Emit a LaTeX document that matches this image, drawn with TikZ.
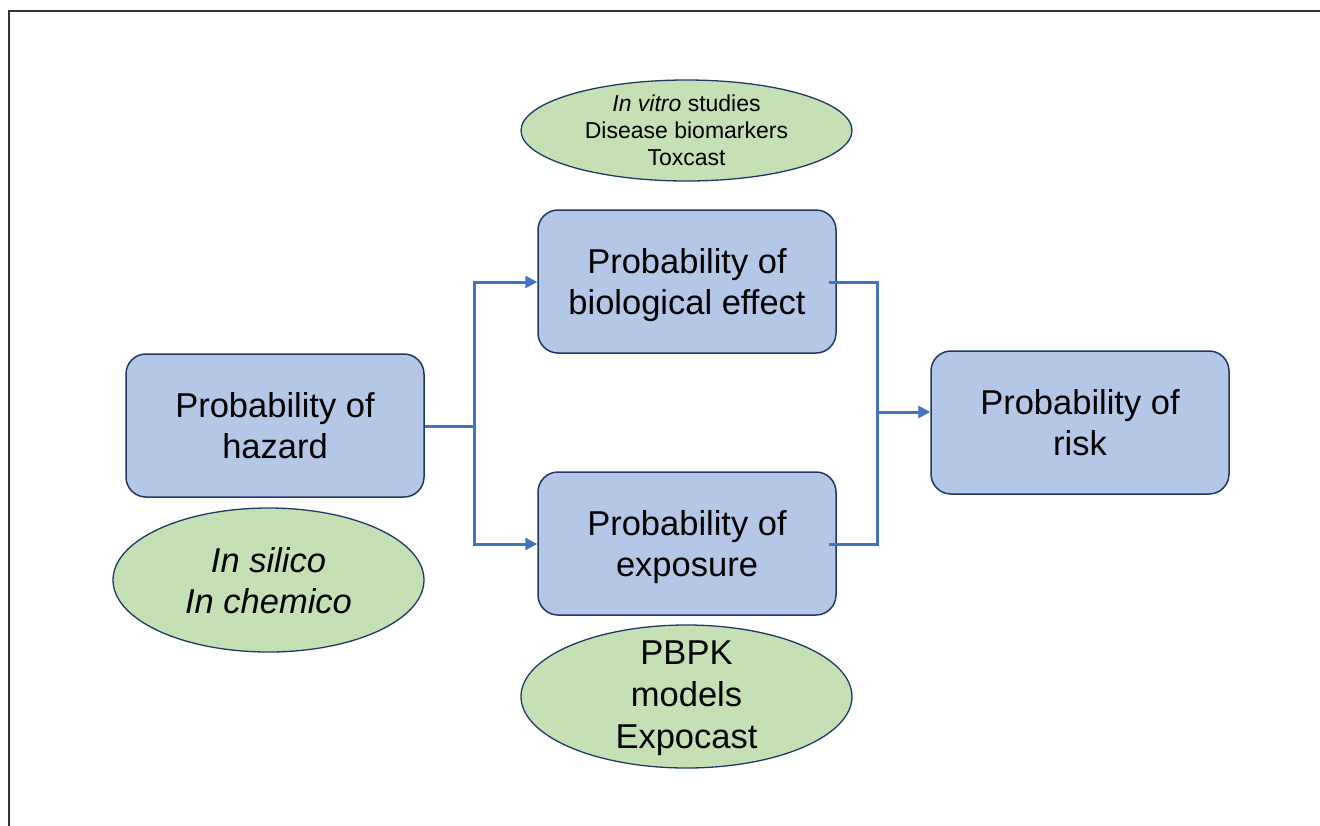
\documentclass[tikz,border=0pt]{standalone}
\usepackage{fontspec}
\setmainfont{Liberation Sans}
\usetikzlibrary{shapes.geometric,arrows.meta}
\definecolor{boxfill}{HTML}{B4C7E7}
\definecolor{ellfill}{HTML}{C5E0B4}
\definecolor{edge}{HTML}{1F3864}
\definecolor{link}{HTML}{4472C4}
\tikzset{
  probbox/.style={draw=edge, fill=boxfill, line width=1.5pt, rounded corners=20pt,
    minimum width=298pt, minimum height=143pt, align=center, inner sep=0pt,
    text depth=0pt, font=\fontsize{34.5}{41}\selectfont},
  oval/.style={draw=edge, fill=ellfill, line width=1.3pt, ellipse, inner sep=0pt},
  ovaltext/.style={align=center, inner sep=0pt, text depth=0pt},
  linkline/.style={draw=link, line width=3pt},
  linkarrow/.style={linkline, -{Triangle[length=12pt,width=12pt]}}
}
\begin{document}
\begin{tikzpicture}[x=1pt,y=-1pt]
\useasboundingbox (0,0) rectangle (1320,825);
\draw[line width=2pt, black!80] (1330,11) -- (8.5,11) -- (8.5,835);

\node[probbox] (haz) at (275,425.5) {Probability of\\hazard};
\node[probbox] (bio) at (687,281.5) {Probability of\\biological effect};
\node[probbox] (exp) at (687,543.5) {Probability of\\exposure};
\node[probbox] (risk) at (1080,422.5) {Probability of\\risk};

\node[oval, minimum width=331pt, minimum height=101pt] (top) at (686.5,130.5) {};
\node[ovaltext, font=\fontsize{23}{27}\selectfont] (toptext) at (top.center) {\textit{In vitro} studies\\Disease biomarkers\\Toxcast};
\node[oval, minimum width=331pt, minimum height=143pt] (bot) at (686.5,696.5) {};
\node[ovaltext, font=\fontsize{34.5}{42}\selectfont] (bottext) at ([yshift=2pt]bot.center) {PBPK\\models\\Expocast};
\node[oval, minimum width=311pt, minimum height=144pt] (left) at (268.5,580) {};
\node[ovaltext, font=\fontsize{34.5}{41}\itshape] (lefttext) at (left.center) {In silico\\In chemico};

\coordinate (sp) at (474,426);
\coordinate (jn) at (877,412);
\draw[linkline] (haz.east |- sp) -- (sp);
\draw[linkarrow] (sp) |- (bio.west |- 0,282);
\draw[linkarrow] (sp) |- (exp.west |- 0,544);
\draw[linkline] ([xshift=-8pt]bio.east |- 0,282) -| (jn);
\draw[linkline] ([xshift=-8pt]exp.east |- 0,544) -| (jn);
\draw[linkarrow] (jn) -- (risk.west |- jn);
\end{tikzpicture}
\end{document}
